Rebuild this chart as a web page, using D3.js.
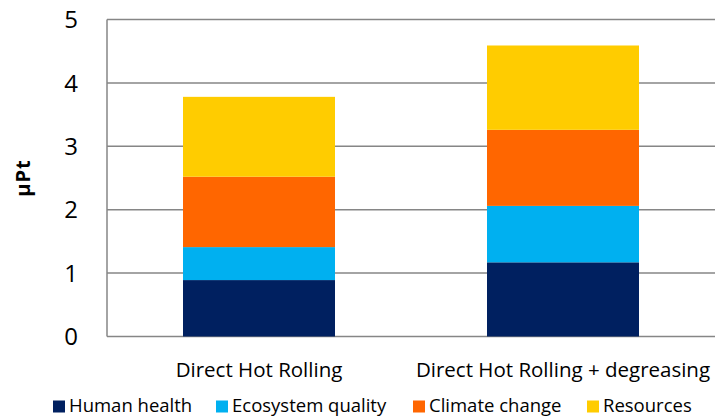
<!DOCTYPE html>
<html>
<head>
<meta charset="utf-8">
<script src="https://cdn.jsdelivr.net/npm/d3@7"></script>
<style>
  body { margin: 0; background: #fff; }
  svg { display: block; font-family: "Open Sans", "Noto Sans", sans-serif; }
</style>
</head>
<body>
<svg id="chart"></svg>
<script>
(function () {
    const width = 715;
    const height = 420;
    const margin = { top: 19.5, right: 0, bottom: 83.5, left: 107 };

    // data
    const scenarios = ["Direct Hot Rolling", "Direct Hot Rolling + degreasing"];
    const categories = ["Human health", "Ecosystem quality", "Climate change", "Resources"];
    const humanHealth = [0.89, 1.17];
    const ecosystemQuality = [0.52, 0.89];
    const climateChange = [1.11, 1.20];
    const resources = [1.26, 1.33];
    const yTicks = [0, 1, 2, 3, 4, 5];
    const colors = ["#002060", "#00B0F0", "#FF6600", "#FFCC00"];

    const rows = scenarios.map((s, i) => ({
        scenario: s,
        "Human health": humanHealth[i],
        "Ecosystem quality": ecosystemQuality[i],
        "Climate change": climateChange[i],
        "Resources": resources[i]
    }));

    const svg = d3.select("#chart")
        .attr("width", width)
        .attr("height", height);

    const x = d3.scaleBand()
        .domain(scenarios)
        .range([margin.left, width - margin.right])
        .paddingInner(0.5)
        .paddingOuter(0.25);

    const y = d3.scaleLinear()
        .domain([0, 5])
        .range([height - margin.bottom, margin.top]);

    const color = d3.scaleOrdinal().domain(categories).range(colors);

    // gridlines
    svg.append("g")
        .selectAll("line")
        .data(yTicks)
        .enter().append("line")
        .attr("x1", margin.left)
        .attr("x2", width)
        .attr("y1", d => y(d))
        .attr("y2", d => y(d))
        .attr("stroke", "#868686")
        .attr("stroke-width", 1.5);

    // left axis line
    svg.append("line")
        .attr("x1", margin.left)
        .attr("x2", margin.left)
        .attr("y1", y(0))
        .attr("y2", y(5))
        .attr("stroke", "#868686")
        .attr("stroke-width", 1.5);

    const series = d3.stack().keys(categories)(rows);

    svg.append("g")
        .selectAll("g")
        .data(series)
        .enter().append("g")
        .attr("fill", d => color(d.key))
        .selectAll("rect")
        .data(d => d)
        .enter().append("rect")
        .attr("x", d => x(d.data.scenario))
        .attr("width", x.bandwidth())
        .attr("y", d => y(d[1]))
        .attr("height", d => y(d[0]) - y(d[1]));

    // y tick labels
    svg.append("g")
        .selectAll("text")
        .data(yTicks)
        .enter().append("text")
        .attr("x", 78)
        .attr("y", d => y(d))
        .attr("dy", "0.36em")
        .attr("text-anchor", "end")
        .attr("font-size", 24)
        .attr("fill", "#000")
        .text(d => d);

    // y axis title
    svg.append("text")
        .attr("transform", `translate(30,${(y(0) + y(5)) / 2}) rotate(-90)`)
        .attr("text-anchor", "middle")
        .attr("font-size", 20)
        .attr("font-weight", "bold")
        .attr("letter-spacing", 1)
        .text("µPt");

    // x category labels
    svg.append("g")
        .selectAll("text")
        .data(scenarios)
        .enter().append("text")
        .attr("x", d => x(d) + x.bandwidth() / 2)
        .attr("y", 377)
        .attr("text-anchor", "middle")
        .attr("font-size", 20.5)
        .text(d => d);

    // legend
    const legendX = [53, 216, 413, 587];
    const legend = svg.append("g")
        .selectAll("g")
        .data(categories)
        .enter().append("g")
        .attr("transform", (d, i) => `translate(${legendX[i]},412)`);

    legend.append("rect")
        .attr("x", 0)
        .attr("y", -11.5)
        .attr("width", 12)
        .attr("height", 12)
        .attr("fill", d => color(d));

    legend.append("text")
        .attr("x", 16)
        .attr("y", 0)
        .attr("font-size", 18.5)
        .text(d => d);
})();
</script>
</body>
</html>
